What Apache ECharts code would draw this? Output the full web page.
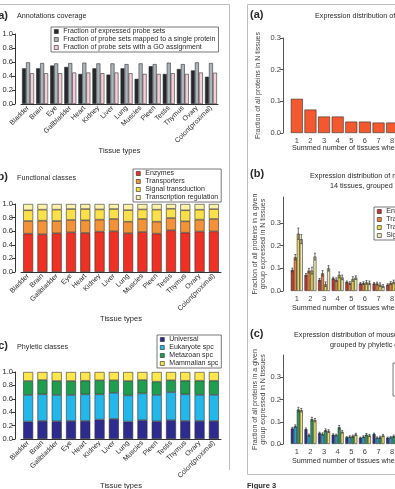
<!DOCTYPE html>
<html>
<head>
<meta charset="utf-8">
<script src="https://cdn.jsdelivr.net/npm/echarts@6/dist/echarts.min.js"></script>
<style>
html, body { margin: 0; padding: 0; background: #fff; }
#chart { width: 395px; height: 489px; }
</style>
</head>
<body>
<div id="chart"></div>
<script>
// tissue order differs between panel a and panels b/c
var tissuesA = ['Bladder', 'Brain', 'Eye', 'Gallbladder', 'Heart', 'Kidney', 'Liver', 'Lung', 'Muscles', 'Pleen', 'Testis', 'Thymus', 'Ovary', 'Colon(proximal)'];
var tissuesBC = ['Bladder', 'Brain', 'Gallbladder', 'Eye', 'Heart', 'Kidney', 'Liver', 'Lung', 'Muscles', 'Pleen', 'Testis', 'Thymus', 'Ovary', 'Colon(proximal)'];
var nTissues = ['1', '2', '3', '4', '5', '6', '7', '8'];

// a) annotations coverage
var expressed = [0.51, 0.51, 0.55, 0.53, 0.43, 0.51, 0.42, 0.51, 0.36, 0.54, 0.43, 0.50, 0.48, 0.39];
var singleProtein = [0.595, 0.585, 0.58, 0.585, 0.59, 0.58, 0.58, 0.57, 0.58, 0.57, 0.59, 0.57, 0.595, 0.585];
var goAssigned = [0.44, 0.44, 0.44, 0.45, 0.45, 0.44, 0.45, 0.44, 0.43, 0.43, 0.44, 0.43, 0.45, 0.447];

// b) functional classes (stacked fractions)
var enzymes = [0.564, 0.554, 0.569, 0.583, 0.574, 0.593, 0.598, 0.569, 0.588, 0.564, 0.613, 0.578, 0.595, 0.597];
var transporters = [0.186, 0.201, 0.181, 0.182, 0.186, 0.177, 0.182, 0.171, 0.192, 0.176, 0.181, 0.167, 0.175, 0.183];
var signalTrans = [0.157, 0.162, 0.167, 0.161, 0.166, 0.150, 0.146, 0.170, 0.140, 0.177, 0.136, 0.162, 0.146, 0.145];
var transcReg = [0.093, 0.083, 0.083, 0.074, 0.074, 0.080, 0.074, 0.090, 0.080, 0.083, 0.070, 0.093, 0.084, 0.075];

// c) phyletic classes (stacked fractions)
var universal = [0.26, 0.27, 0.264, 0.27, 0.27, 0.29, 0.30, 0.26, 0.28, 0.264, 0.28, 0.27, 0.27, 0.27];
var eukaryote = [0.397, 0.397, 0.393, 0.387, 0.397, 0.377, 0.39, 0.39, 0.40, 0.393, 0.42, 0.397, 0.39, 0.39];
var metazoan = [0.209, 0.213, 0.209, 0.209, 0.203, 0.209, 0.186, 0.216, 0.20, 0.199, 0.176, 0.203, 0.21, 0.21];
var mammalian = [0.134, 0.12, 0.134, 0.134, 0.13, 0.124, 0.124, 0.134, 0.12, 0.144, 0.124, 0.13, 0.13, 0.13];

// (a) expression distribution of all proteins
var allProteins = [0.108, 0.074, 0.052, 0.052, 0.036, 0.036, 0.033, 0.033];

// (b) by functional class, with error bars
var fEnz = [0.093, 0.071, 0.049, 0.056, 0.040, 0.033, 0.033, 0.028];
var fTrans = [0.149, 0.090, 0.078, 0.050, 0.035, 0.035, 0.033, 0.035];
var fTreg = [0.253, 0.090, 0.030, 0.071, 0.053, 0.038, 0.028, 0.040];
var fSig = [0.229, 0.152, 0.100, 0.060, 0.059, 0.036, 0.022, 0.030];
var eEnz = [0.008, 0.006, 0.006, 0.005, 0.004, 0.004, 0.004, 0.004];
var eTrans = [0.012, 0.010, 0.012, 0.008, 0.006, 0.006, 0.006, 0.006];
var eTreg = [0.025, 0.015, 0.010, 0.013, 0.010, 0.008, 0.008, 0.008];
var eSig = [0.020, 0.015, 0.012, 0.010, 0.008, 0.008, 0.006, 0.006];

// (c) by phyletic class, with error bars
var pUniv = [0.070, 0.067, 0.049, 0.042, 0.030, 0.028, 0.045, 0.028];
var pEuk = [0.080, 0.040, 0.045, 0.040, 0.033, 0.033, 0.028, 0.030];
var pMeta = [0.155, 0.112, 0.062, 0.075, 0.035, 0.042, 0.030, 0.035];
var pMamm = [0.152, 0.107, 0.058, 0.055, 0.043, 0.038, 0.038, 0.035];
var ePUniv = [0.005, 0.005, 0.004, 0.004, 0.003, 0.003, 0.004, 0.003];
var ePEuk = [0.006, 0.005, 0.005, 0.004, 0.004, 0.004, 0.004, 0.004];
var ePMeta = [0.010, 0.008, 0.006, 0.008, 0.005, 0.005, 0.005, 0.005];
var ePMamm = [0.008, 0.008, 0.006, 0.006, 0.005, 0.005, 0.005, 0.005];

var FONT = 'Liberation Sans, Arial, sans-serif';
var TXT = '#2a2a2a';

var chart = echarts.init(document.getElementById('chart'));

function grid(left, top, width, height) {
    return { left: left, top: top, width: width, height: height, containLabel: false, outerBoundsMode: 'none' };
}

function leftX(g, cats) {
    return {
        type: 'category', gridIndex: g, data: cats,
        axisLine: { show: true, lineStyle: { color: '#333', width: 1 } },
        axisTick: { show: false },
        axisLabel: { rotate: 45, interval: 0, fontSize: 7, margin: 3, color: TXT, fontFamily: FONT },
        name: 'Tissue types', nameLocation: 'middle', nameGap: 41,
        nameTextStyle: { fontSize: 7.5, color: TXT, fontFamily: FONT }
    };
}

function leftY(g) {
    return {
        type: 'value', gridIndex: g, min: 0, max: 1, interval: 0.2, offset: 6,
        axisLine: { show: true, lineStyle: { color: '#333', width: 1 } },
        axisTick: { show: true, length: 3, lineStyle: { color: '#333' } },
        axisLabel: { fontSize: 7.5, margin: 2, color: TXT, fontFamily: FONT, formatter: function (v) { return v.toFixed(1); } },
        splitLine: { show: false }
    };
}

function rightX(g) {
    return {
        type: 'category', gridIndex: g, data: nTissues,
        axisLine: { show: false }, axisTick: { show: false },
        axisLabel: { fontSize: 7.5, margin: 4, color: '#444', fontFamily: FONT }
    };
}

function rightY(g, max, name, gap) {
    var ticks = [0, 0.1, 0.2, 0.3];
    return {
        type: 'value', gridIndex: g, min: 0, max: max, interval: 0.1, offset: 7,
        axisLine: { show: true, lineStyle: { color: '#555', width: 1 } },
        axisTick: { show: true, length: 3, lineStyle: { color: '#555' }, customValues: ticks },
        axisLabel: { fontSize: 7.5, margin: 2, color: '#444', fontFamily: FONT, customValues: ticks,
            formatter: function (v) { return v.toFixed(1); } },
        splitLine: { show: false },
        name: name, nameLocation: 'middle', nameRotate: 90, nameGap: gap,
        nameTextStyle: { fontSize: 7, lineHeight: 8, color: '#444', fontFamily: FONT }
    };
}

function bar(name, g, data, color, opts) {
    var s = {
        name: name, type: 'bar', xAxisIndex: g, yAxisIndex: g, data: data,
        itemStyle: { color: color, borderColor: '#333', borderWidth: 0.6 }
    };
    for (var k in opts) s[k] = opts[k];
    return s;
}

// error bars drawn next to the grouped bars through the axes
function errBars(g, vals, errs, idx, n, bw) {
    return {
        type: 'custom', xAxisIndex: g, yAxisIndex: g, silent: true, z: 5,
        data: vals.map(function (v, i) { return [i, v - errs[i], v + errs[i]]; }),
        encode: { x: 0, y: [1, 2] },
        renderItem: function (params, api) {
            var lo = api.coord([api.value(0), api.value(1)]);
            var hi = api.coord([api.value(0), api.value(2)]);
            var x = lo[0] + (idx - (n - 1) / 2) * bw;
            var st = { stroke: '#333', lineWidth: 0.7 };
            return { type: 'group', children: [
                { type: 'line', shape: { x1: x, y1: lo[1], x2: x, y2: hi[1] }, style: st },
                { type: 'line', shape: { x1: x - 1, y1: hi[1], x2: x + 1, y2: hi[1] }, style: st },
                { type: 'line', shape: { x1: x - 1, y1: lo[1], x2: x + 1, y2: lo[1] }, style: st }
            ] };
        }
    };
}

function legend(left, top, items) {
    return {
        left: left, top: top, orient: 'vertical', selectedMode: false,
        data: items, icon: 'rect', itemWidth: 4, itemHeight: 4, itemGap: 1,
        padding: [1, 3, 1, 3], borderColor: '#555', borderWidth: 0.8, backgroundColor: '#fff',
        itemStyle: { borderColor: '#222', borderWidth: 0.6 },
        textStyle: { fontSize: 7, lineHeight: 6, color: TXT, fontFamily: FONT }
    };
}

function txt(x, y, s, font, align) {
    return { type: 'text', x: x, y: y, silent: true,
        style: { text: s, font: font, fill: TXT, align: align || 'left', verticalAlign: 'middle' } };
}

function line(x1, y1, x2, y2) {
    return { type: 'line', silent: true, shape: { x1: x1, y1: y1, x2: x2, y2: y2 }, style: { stroke: '#bdbdbd', lineWidth: 1 } };
}

var cA = ['#25282d', '#aab4ba', '#f4cfd7'];
var cB = ['#ee3124', '#f39237', '#fbe04a', '#fdf2a8'];
var cC = ['#2e2b8e', '#23b7ea', '#1f9e4f', '#fde74c'];
var cRB = ['#c9342a', '#e8823c', '#efd74a', '#f1edb4'];
var cRC = ['#2c2e8c', '#1fa0dc', '#2a9a54', '#ede26a'];

var nameA = ['Fraction of expressed probe sets', 'Fraction of probe sets mapped to a single protein', 'Fraction of probe sets with a GO assignment'];
var nameB = ['Enzymes', 'Transporters', 'Signal transduction', 'Transcription regulation'];
var nameC = ['Universal', 'Eukaryote spc', 'Metazoan spc', 'Mammalian spc'];

var option = {
    animation: false,
    backgroundColor: '#fff',
    textStyle: { fontFamily: FONT },
    grid: [
        grid(21, 34, 197, 70),
        grid(21, 204, 200, 68),
        grid(21, 372, 200, 67),
        grid(290, 38, 109, 95),
        grid(290, 197, 109, 94),
        grid(290, 355, 109, 89)
    ],
    xAxis: [leftX(0, tissuesA), leftX(1, tissuesBC), leftX(2, tissuesBC), rightX(3), rightX(4), rightX(5)],
    yAxis: [
        leftY(0), leftY(1), leftY(2),
        rightY(3, 0.3, 'Fraction of all proteins in N tissues', 21),
        rightY(4, 0.415, 'Fraction of all proteins in a given\ngroup expressed in N tissues', 14),
        rightY(5, 0.4, 'Fraction of all proteins in a given\ngroup expressed in N tissues', 14)
    ],
    legend: [
        legend(51, 27, nameA),
        legend(133, 169, nameB),
        legend(157, 335, nameC),
        legend(374, 207, [
            { name: 'Enzymes', itemStyle: { color: cRB[0] } },
            { name: 'Transporters', itemStyle: { color: cRB[1] } },
            { name: 'Transcription regulation', itemStyle: { color: cRB[2] } },
            { name: 'Signal transduction', itemStyle: { color: cRB[3] } }
        ]),
        legend(393, 363, [
            { name: 'Universal', itemStyle: { color: cRC[0] } },
            { name: 'Eukaryote spc', itemStyle: { color: cRC[1] } },
            { name: 'Metazoan spc', itemStyle: { color: cRC[2] } },
            { name: 'Mammalian spc', itemStyle: { color: cRC[3] } }
        ])
    ],
    series: [
        bar(nameA[0], 0, expressed, cA[0], { barWidth: 4, barGap: '0%' }),
        bar(nameA[1], 0, singleProtein, cA[1], { barWidth: 4, barGap: '0%' }),
        bar(nameA[2], 0, goAssigned, cA[2], { barWidth: 4, barGap: '0%' }),

        bar(nameB[0], 1, enzymes, cB[0], { stack: 'f', barWidth: 10 }),
        bar(nameB[1], 1, transporters, cB[1], { stack: 'f', barWidth: 10 }),
        bar(nameB[2], 1, signalTrans, cB[2], { stack: 'f', barWidth: 10 }),
        bar(nameB[3], 1, transcReg, cB[3], { stack: 'f', barWidth: 10 }),

        bar(nameC[0], 2, universal, cC[0], { stack: 'p', barWidth: 10 }),
        bar(nameC[1], 2, eukaryote, cC[1], { stack: 'p', barWidth: 10 }),
        bar(nameC[2], 2, metazoan, cC[2], { stack: 'p', barWidth: 10 }),
        bar(nameC[3], 2, mammalian, cC[3], { stack: 'p', barWidth: 10 }),

        bar('All proteins', 3, allProteins, '#f4582e', { barWidth: 12 }),

        bar('Enzymes', 4, fEnz, cRB[0], { barWidth: 3, barGap: '0%' }),
        bar('Transporters', 4, fTrans, cRB[1], { barWidth: 3, barGap: '0%' }),
        bar('Transcription regulation', 4, fTreg, cRB[2], { barWidth: 3, barGap: '0%' }),
        bar('Signal transduction', 4, fSig, cRB[3], { barWidth: 3, barGap: '0%' }),
        errBars(4, fEnz, eEnz, 0, 4, 3),
        errBars(4, fTrans, eTrans, 1, 4, 3),
        errBars(4, fTreg, eTreg, 2, 4, 3),
        errBars(4, fSig, eSig, 3, 4, 3),

        bar('Universal', 5, pUniv, cRC[0], { barWidth: 3, barGap: '0%' }),
        bar('Eukaryote spc', 5, pEuk, cRC[1], { barWidth: 3, barGap: '0%' }),
        bar('Metazoan spc', 5, pMeta, cRC[2], { barWidth: 3, barGap: '0%' }),
        bar('Mammalian spc', 5, pMamm, cRC[3], { barWidth: 3, barGap: '0%' }),
        errBars(5, pUniv, ePUniv, 0, 4, 3),
        errBars(5, pEuk, ePEuk, 1, 4, 3),
        errBars(5, pMeta, ePMeta, 2, 4, 3),
        errBars(5, pMamm, ePMamm, 3, 4, 3)
    ],
    graphic: [
        // frames
        line(0, 4.5, 229.5, 4.5),
        line(229.5, 4.5, 229.5, 470),
        line(247.5, 4.5, 395, 4.5),
        line(247.5, 4.5, 247.5, 474.5),
        line(247.5, 474.5, 395, 474.5),
        // left figure labels
        txt(8, 16, 'a)', 'bold 11px ' + FONT, 'right'),
        txt(17, 16, 'Annotations coverage', '7.2px ' + FONT),
        txt(8, 177, 'b)', 'bold 11px ' + FONT, 'right'),
        txt(17, 178, 'Functional classes', '7.2px ' + FONT),
        txt(8, 346, 'c)', 'bold 11px ' + FONT, 'right'),
        txt(17, 347, 'Phyletic classes', '7.2px ' + FONT),
        // right figure labels
        txt(250, 15, '(a)', 'bold 11px ' + FONT),
        txt(315, 16, 'Expression distribution of all mouse proteins in 14 tissues', '7.2px ' + FONT),
        txt(292, 148, 'Summed number of tissues where protein is expressed', '7.2px ' + FONT),
        txt(250, 174, '(b)', 'bold 11px ' + FONT),
        txt(310, 176, 'Expression distribution of mouse proteins in', '7.2px ' + FONT),
        txt(330, 186, '14 tissues, grouped by functional class', '7.2px ' + FONT),
        txt(292, 308, 'Summed number of tissues where protein is expressed', '7.2px ' + FONT),
        txt(250, 334, '(c)', 'bold 11px ' + FONT),
        txt(294, 335, 'Expression distribution of mouse proteins in 14 tissues,', '7.2px ' + FONT),
        txt(330, 345, 'grouped by phyletic class', '7.2px ' + FONT),
        txt(292, 461, 'Summed number of tissues where protein is expressed', '7.2px ' + FONT),
        txt(247, 486, 'Figure 3', 'bold 7.5px ' + FONT)
    ]
};

chart.setOption(option);
</script>
</body>
</html>
